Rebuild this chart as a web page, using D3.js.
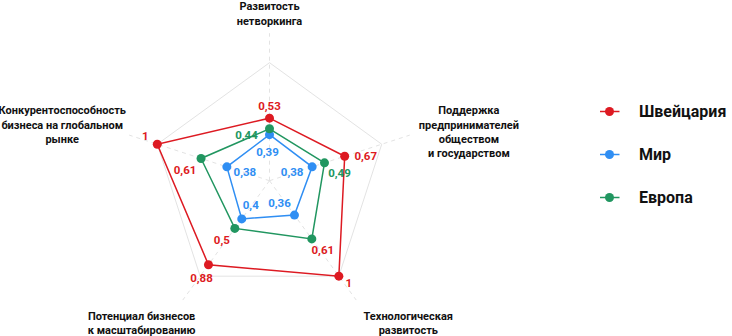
<!DOCTYPE html>
<html>
<head>
<meta charset="utf-8">
<script src="https://cdn.jsdelivr.net/npm/d3@7"></script>
<style>
  html, body { margin: 0; padding: 0; background: #fff; }
  svg { display: block; font-family: Roboto, "Noto Sans", sans-serif; }
</style>
</head>
<body>
<div id="chart"></div>
<script>
// axes, clockwise from the top
const axes = [
  ["Развитость", "нетворкинга"],
  ["Поддержка", "предпринимателей", "обществом", "и государством"],
  ["Технологическая", "развитость"],
  ["Потенциал бизнесов", "к масштабированию"],
  ["Конкурентоспособность", "бизнеса на глобальном", "рынке"]
];
const seriesNames = ["Швейцария", "Мир", "Европа"];
const swiss = [0.53, 0.67, 1, 0.88, 1];
const world = [0.39, 0.38, 0.36, 0.4, 0.38];
const europe = [0.44, 0.49, 0.61, 0.5, 0.61];

const width = 732, height = 336;
const cx = 269.5, cy = 180.7;
const colors = { "Швейцария": "#dd1a22", "Мир": "#2f8ef3", "Европа": "#219660" };

const r = d3.scaleLinear().domain([0, 1]).range([0, 118]);
const angle = d3.scaleLinear().domain([0, axes.length]).range([0, 2 * Math.PI]);
const pt = (i, v) => [cx + r(v) * Math.sin(angle(i)), cy - r(v) * Math.cos(angle(i))];

const svg = d3.select("#chart").append("svg")
  .attr("width", width).attr("height", height);

//outer grid polygon, only the split at 1
svg.append("path")
  .attr("d", d3.line()(axes.map((a, i) => pt(i, 1))) + "Z")
  .attr("fill", "none").attr("stroke", "#e3e3e3").attr("stroke-width", 1);

//dashed spokes, running past the grid
svg.append("g").selectAll("line").data(axes).enter().append("line")
  .attr("x1", cx).attr("y1", cy)
  .attr("x2", (d, i) => pt(i, 1.25)[0])
  .attr("y2", (d, i) => pt(i, 1.25)[1])
  .attr("stroke", "#e3e3e3").attr("stroke-dasharray", "4 4");

//axis names: radius, horizontal alignment, vertical mode, nudges
const nameLayout = [
  { rr: 156 / 118, align: "middle", v: "bottom", dx: 0, dy: 0 },
  { rr: 157 / 118, align: "start", v: "middle", dx: 0, dy: 0 },
  { rr: 160 / 118, align: "start", v: "top", dx: 0, dy: 0 },
  { rr: 160 / 118, align: "end", v: "top", dx: 20, dy: 0 },
  { rr: 151 / 118, align: "end", v: "middle", dx: 0, dy: -9 }
];
const lh = 14.3;
axes.forEach((lines, i) => {
  const L = nameLayout[i];
  const [ax, ay] = pt(i, L.rr);
  const g = svg.append("g");
  const t = g.selectAll("text").data(lines).enter().append("text")
    .attr("text-anchor", "middle")
    .attr("font-size", 11).attr("font-weight", 700).attr("fill", "#111")
    .text(d => d);
  const w = d3.max(t.nodes(), n => n.getComputedTextLength());
  let x = ax + L.dx;
  if (L.align === "start") x += w / 2;
  if (L.align === "end") x -= w / 2;
  let y0;
  if (L.v === "bottom") y0 = ay - (lines.length - 1) * lh;
  else if (L.v === "top") y0 = ay + 9.5;
  else y0 = ay - (lines.length - 1) * lh / 2 + 3.5;
  t.attr("x", x).attr("y", (d, k) => y0 + L.dy + k * lh);
});

//value label offsets per series and axis
const labelOffsets = {
  "Швейцария": [[0, -8], [21, 4], [10, 11], [-7, 17], [-12, -4]],
  "Мир": [[-2, 21], [-20, 9], [-15, -8], [9, -10], [18, 9]],
  "Европа": [[-23, 10], [15, 14], [11, 15], [-13, 16], [-16, 16]]
};
//some Европа labels are drawn in the red of Швейцария
const labelColorFrom = {
  "Швейцария": [0, 0, 0, 0, 0],
  "Мир": [1, 1, 1, 1, 1],
  "Европа": [2, 2, 0, 0, 0]
};

const seriesData = [swiss, world, europe];
const fmt = v => String(v).replace(".", ",");

seriesData.forEach((vals, s) => {
  const name = seriesNames[s];
  const col = colors[name];
  const pts = vals.map((v, i) => pt(i, v));
  const g = svg.append("g");
  g.append("path")
    .attr("d", d3.line()(pts) + "Z")
    .attr("fill", "none").attr("stroke", col).attr("stroke-width", 1.5);
  g.selectAll("circle").data(pts).enter().append("circle")
    .attr("cx", d => d[0]).attr("cy", d => d[1]).attr("r", 4.5)
    .attr("fill", col);
  g.selectAll("text").data(vals).enter().append("text")
    .attr("x", (d, i) => pts[i][0] + labelOffsets[name][i][0])
    .attr("y", (d, i) => pts[i][1] + labelOffsets[name][i][1])
    .attr("text-anchor", "middle")
    .attr("font-size", 11.5).attr("font-weight", 700)
    .attr("fill", (d, i) => colors[seriesNames[labelColorFrom[name][i]]])
    .text(d => fmt(d));
});

//legend
const legend = svg.append("g").attr("transform", "translate(600,111.5)");
const item = legend.selectAll("g").data(seriesNames).enter().append("g")
  .attr("transform", (d, i) => `translate(0,${i * 43})`);
item.append("line").attr("x1", 0).attr("x2", 19.5)
  .attr("stroke", d => colors[d]).attr("stroke-width", 1.5);
item.append("circle").attr("cx", 9.5).attr("r", 4.5).attr("fill", d => colors[d]);
item.append("text").attr("x", 39).attr("y", 5.5)
  .attr("font-size", 16).attr("font-weight", 700).attr("fill", "#111")
  .text(d => d);
</script>
</body>
</html>
